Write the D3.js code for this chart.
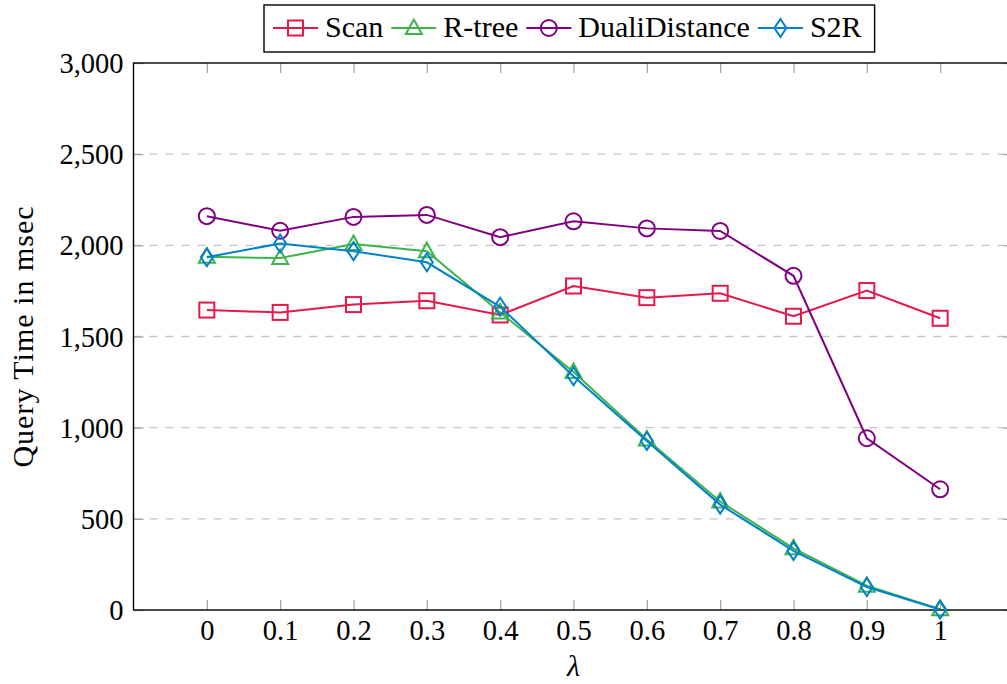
<!DOCTYPE html>
<html>
<head>
<meta charset="utf-8">
<script src="https://cdn.jsdelivr.net/npm/d3@7"></script>
<style>
  body { margin: 0; background: #fff; }
</style>
</head>
<body>
<svg id="chart" width="1007" height="684"></svg>
<script>
const lambdas = [0, 0.1, 0.2, 0.3, 0.4, 0.5, 0.6, 0.7, 0.8, 0.9, 1]
const scan = [1645, 1632, 1675, 1696, 1618, 1777, 1713, 1737, 1611, 1752, 1600]
const rtree = [1937, 1930, 2007, 1968, 1632, 1305, 935, 595, 338, 133, 4]
const dual = [2160, 2080, 2156, 2167, 2045, 2132, 2093, 2079, 1833, 942, 662]
const s2r = [1935, 2010, 1968, 1907, 1663, 1282, 927, 578, 324, 126, 3]
const yTicks = [0, 500, 1000, 1500, 2000, 2500, 3000]

const series = [
  { name: 'Scan', values: scan, color: '#e6194b', marker: 'square' },
  { name: 'R-tree', values: rtree, color: '#3cb44b', marker: 'triangle' },
  { name: 'DualiDistance', values: dual, color: '#800080', marker: 'circle' },
  { name: 'S2R', values: s2r, color: '#0082c8', marker: 'diamond' }
]

const svg = d3.select('#chart')
const x = d3.scaleLinear().domain([-0.1, 1.1]).range([133.5, 1013.5])
const y = d3.scaleLinear().domain([0, 3000]).range([610, 63])
const fontSize = 28.5
const labelSize = 30
const serif = "'Liberation Serif', serif"

// grid
svg.append('g').selectAll('line')
  .data(yTicks.filter(d => d > 0 && d < 3000))
  .join('line')
  .attr('x1', x.range()[0]).attr('x2', x.range()[1])
  .attr('y1', d => y(d)).attr('y2', d => y(d))
  .attr('stroke', '#c4c4c4').attr('stroke-width', 1.3)
  .attr('stroke-dasharray', '8,8')

// ticks (inward, on all sides)
const tickColor = '#a8a8a8'
const tk = 10
const xAxisB = d3.axisBottom(x).tickValues(lambdas).tickSizeInner(-tk).tickSizeOuter(0).tickFormat(d3.format('~g'))
const xAxisT = d3.axisTop(x).tickValues(lambdas).tickSizeInner(-tk).tickSizeOuter(0).tickFormat('')
const yAxisL = d3.axisLeft(y).tickValues(yTicks).tickSizeInner(-tk).tickSizeOuter(0).tickFormat(d3.format(','))
const yAxisR = d3.axisRight(y).tickValues(yTicks).tickSizeInner(-tk).tickSizeOuter(0).tickFormat('')

function styleAxis(g) {
  g.attr('font-family', null).attr('font-size', null)
  g.select('.domain').remove()
  g.selectAll('.tick line').attr('stroke', tickColor).attr('stroke-width', 1.3)
  g.selectAll('.tick text').attr('fill', '#000')
    .style('font-family', serif).style('font-size', fontSize + 'px')
}

svg.append('g').attr('transform', 'translate(0,610)').call(xAxisB).call(styleAxis)
  .selectAll('.tick text').attr('dy', null).attr('y', 30)
svg.append('g').attr('transform', 'translate(0,63)').call(xAxisT).call(styleAxis)
svg.append('g').attr('transform', `translate(${x.range()[0]},0)`).call(yAxisL).call(styleAxis)
  .selectAll('.tick text').attr('dy', null).attr('y', 9.5).attr('x', -10)
svg.append('g').attr('transform', `translate(${x.range()[1]},0)`).call(yAxisR).call(styleAxis)

// box
svg.append('rect')
  .attr('x', x.range()[0]).attr('y', 63)
  .attr('width', x.range()[1] - x.range()[0]).attr('height', 547)
  .attr('fill', 'none').attr('stroke', '#000').attr('stroke-width', 1.4)

// markers
function marker(g, type, color) {
  if (type === 'square') {
    g.append('rect').attr('x', -7.5).attr('y', -7.5).attr('width', 15).attr('height', 15)
  } else if (type === 'circle') {
    g.append('circle').attr('r', 8)
  } else if (type === 'triangle') {
    g.append('path').attr('d', 'M0,-8.5L8,6L-8,6Z')
  } else {
    g.append('path').attr('d', 'M0,-9L6,0L0,9L-6,0Z')
  }
  g.selectAll('*').attr('fill', 'none').attr('stroke', color).attr('stroke-width', 2)
}

const line = d3.line().x((d, i) => x(lambdas[i])).y(d => y(d))

series.forEach(s => {
  const g = svg.append('g')
  g.append('path').datum(s.values).attr('d', line)
    .attr('fill', 'none').attr('stroke', s.color).attr('stroke-width', 2)
  g.selectAll('g').data(s.values).join('g')
    .attr('transform', (d, i) => `translate(${x(lambdas[i])},${y(d)})`)
    .each(function() { marker(d3.select(this), s.marker, s.color) })
})

// axis labels
svg.append('text').attr('x', x(0.5)).attr('y', 676).attr('text-anchor', 'middle')
  .style('font-family', serif).style('font-size', labelSize + 'px').style('font-style', 'italic').text('λ')
svg.append('text').attr('transform', `translate(33,${(63 + 610) / 2}) rotate(-90)`)
  .attr('text-anchor', 'middle')
  .style('font-family', serif).style('font-size', labelSize + 'px').style('letter-spacing', '1px')
  .text('Query Time in msec')

// legend
const leg = svg.append('g')
const legBox = leg.append('rect')
let lx = 273
let textEnd = lx
series.forEach(s => {
  const g = leg.append('g')
  g.append('line').attr('x1', lx).attr('x2', lx + 45).attr('y1', 28).attr('y2', 28)
    .attr('stroke', s.color).attr('stroke-width', 2)
  const m = g.append('g').attr('transform', `translate(${lx + 22.5},28)`)
  marker(m, s.marker, s.color)
  const t = g.append('text').attr('x', lx + 52).attr('y', 37)
    .style('font-family', serif).style('font-size', labelSize + 'px').text(s.name)
  textEnd = lx + 52 + t.node().getComputedTextLength()
  lx = textEnd + 8
})
legBox.attr('x', 264).attr('y', 5).attr('width', textEnd + 13 - 264).attr('height', 47)
  .attr('fill', '#fff').attr('stroke', '#000').attr('stroke-width', 1.4)
</script>
</body>
</html>
